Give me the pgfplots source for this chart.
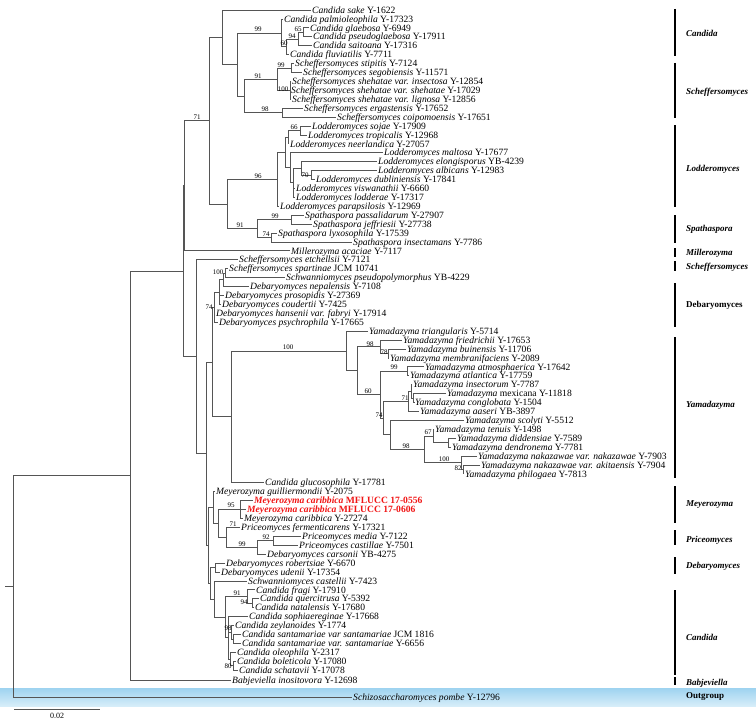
\documentclass[border=0pt]{standalone}
\usepackage{fontspec}
\setmainfont{Liberation Serif}
\usepackage{pgfplots}
\pgfplotsset{compat=1.18}
\definecolor{branch}{RGB}{85,85,85}
\definecolor{bandtop}{RGB}{158,211,240}
\definecolor{bandbot}{RGB}{214,237,249}
\definecolor{newstrain}{RGB}{240,20,20}

\tikzset{
  taxon/.style={anchor=base west, inner sep=0pt, yshift=-3.2bp, font=\fontsize{9.6bp}{10bp}\selectfont},
  boot/.style={anchor=center, inner sep=0pt, font=\fontsize{7bp}{8bp}\selectfont},
  clade/.style={anchor=west, inner sep=0pt, font=\fontsize{9bp}{10bp}\selectfont\bfseries\itshape},
}
\newcommand{\br}[1]{\addplot[branch, line width=0.7bp] coordinates {#1};}
\newcommand{\tx}[3]{\node[taxon] at (axis cs:#1,#2) {#3};}
\newcommand{\bs}[3]{\node[boot] at (axis cs:#1,#2) {#3};}
\newcommand{\cl}[2]{\addplot[black, line width=2bp] coordinates {(675,#1) (675,#2)};}

\begin{document}
\begin{tikzpicture}
\useasboundingbox (0,0) rectangle (756bp,722bp);
\begin{axis}[
    width=756bp, height=722bp, scale only axis,
    xmin=0, xmax=756, ymin=0, ymax=722,
    y dir=reverse,
    hide axis,
    clip=false
]
% outgroup band
\addplot[draw=none, top color=bandtop, bottom color=bandbot] coordinates {(0,688) (756,688) (756,706) (0,706)};

% --- Candida / Scheffersomyces block
\br{(311,10) (222,10) (222,64.36) (237,64.36)}
\br{(281,32.86) (237,32.86) (237,95.86) (244,95.86)}
\br{(283,18.92) (281,18.92) (281,46.8) (286,46.8)}
\br{(298,39.0) (286,39.0) (286,54.6) (289,54.6)}
\br{(303,32.3) (298,32.3) (298,45.68) (312,45.68)}
\br{(309,27.84) (303,27.84) (303,36.76) (312,36.76)}
\br{(277,79.13) (244,79.13) (244,112.58) (282,112.58)}
\br{(291,67.98) (277,67.98) (277,90.28) (290,90.28)}
\br{(294,63.52) (291,63.52) (291,72.44) (302,72.44)}
\br{(291,81.36) (290,81.36) (290,99.2) (291,99.2)}
\br{(303,108.12) (282,108.12) (282,117.04) (336,117.04)}
% --- Lodderomyces / Spathaspora
\br{(222,37.18) (209,37.18) (209,203.94) (227,203.94)}
\br{(277,179.34) (227,179.34) (227,228.54) (257,228.54)}
\br{(285,152.44) (277,152.44) (277,206.24) (279,206.24)}
\br{(288,137.11) (285,137.11) (285,167.76) (290,167.76)}
\br{(300,130.42) (288,130.42) (288,143.8) (289,143.8)}
\br{(311,125.96) (300,125.96) (300,134.88) (307,134.88)}
\br{(383,152.72) (290,152.72) (290,182.8) (293,182.8)}
\br{(301,168.33) (293,168.33) (293,197.32) (295,197.32)}
\br{(293,188.4) (295,188.4)}
\br{(377,161.64) (301,161.64) (301,175.02) (311,175.02)}
\br{(377,170.56) (311,170.56) (311,179.48) (315,179.48)}
\br{(291,219.62) (257,219.62) (257,237.46) (271,237.46)}
\br{(304,215.16) (291,215.16) (291,224.08) (312,224.08)}
\br{(277,233.0) (271,233.0) (271,241.92) (352,241.92)}
\br{(209,120.56) (184,120.56) (184,250.84) (290,250.84)}
\br{(184,185.7) (183,185.7) (183,356.73) (196,356.73)}
% --- Debaryomyces / Yamadazyma
\br{(238,259.76) (196,259.76) (196,453.7) (206,453.7)}
\br{(212,362.0) (206,362.0) (206,545.41) (208,545.41)}
\br{(214,307.15) (212,307.15) (212,416.84) (231,416.84)}
\br{(219,292.1) (214,292.1) (214,322.2) (218,322.2)}
\br{(214,313.28) (215,313.28)}
\br{(223,279.83) (219,279.83) (219,304.36) (221,304.36)}
\br{(219,295.44) (224,295.44)}
\br{(225,273.14) (223,273.14) (223,286.52) (249,286.52)}
\br{(228,268.68) (225,268.68) (225,277.6) (285,277.6)}
\br{(346,350.91) (231,350.91) (231,482.76) (264,482.76)}
\br{(368,331.12) (346,331.12) (346,370.7) (357,370.7)}
\br{(380,346.73) (357,346.73) (357,394.68) (380,394.68)}
\br{(402,340.04) (380,340.04) (380,353.42) (388,353.42)}
\br{(406,348.96) (388,348.96) (388,357.88) (389,357.88)}
\br{(407,371.26) (380,371.26) (380,418.1) (383,418.1)}
\br{(424,366.8) (407,366.8) (407,375.72) (409,375.72)}
\br{(408,401.37) (383,401.37) (383,434.82) (390,434.82)}
\br{(411,391.33) (408,391.33) (408,411.4) (419,411.4)}
\br{(412,384.64) (411,384.64) (411,398.02) (413.5,398.02)}
\br{(446,393.56) (413.5,393.56) (413.5,402.48) (414.5,402.48)}
\br{(464,420.32) (390,420.32) (390,449.31) (424,449.31)}
\br{(433,435.93) (424,435.93) (424,462.69) (461,462.69)}
\br{(434,429.24) (433,429.24) (433,442.62) (448,442.62)}
\br{(456,438.16) (448,438.16) (448,447.08) (451,447.08)}
\br{(477,456.0) (461,456.0) (461,469.38) (463,469.38)}
\br{(480,464.92) (463,464.92) (463,473.84) (464,473.84)}
% --- Meyerozyma / Priceomyces / Candida
\br{(213,507.57) (208,507.57) (208,583.25) (210,583.25)}
\br{(215,491.68) (213,491.68) (213,523.46) (218,523.46)}
\br{(240,509.52) (218,509.52) (218,537.4) (226,537.4)}
\br{(253,500.6) (240,500.6) (240,518.44) (243,518.44)}
\br{(240,509.52) (246,509.52)}
\br{(240,527.36) (226,527.36) (226,547.43) (257,547.43)}
\br{(273,540.74) (257,540.74) (257,554.12) (266,554.12)}
\br{(301,536.28) (273,536.28) (273,545.2) (298,545.2)}
\br{(215,567.5) (210,567.5) (210,599.0) (214,599.0)}
\br{(225,563.04) (215,563.04) (215,571.96) (220,571.96)}
\br{(247,580.88) (214,580.88) (214,617.12) (225,617.12)}
\br{(247,596.49) (225,596.49) (225,637.75) (228,637.75)}
\br{(255,589.8) (247,589.8) (247,603.18) (252,603.18)}
\br{(259,598.72) (252,598.72) (252,607.64) (254,607.64)}
\br{(248,616.56) (228,616.56) (228,658.93) (230,658.93)}
\br{(228,632.17) (231,632.17)}
\br{(234,625.48) (231,625.48) (231,638.86) (233,638.86)}
\br{(241,634.4) (233,634.4) (233,643.32) (241,643.32)}
\br{(236,652.24) (230,652.24) (230,665.62) (233,665.62)}
\br{(236,661.16) (233,661.16) (233,670.08) (238,670.08)}
% --- deep nodes and root
\br{(183,271.2) (130,271.2) (130,680) (231,680)}
\br{(130,475.1) (13,475.1) (13,697) (352,697)}
\br{(5,586) (13,586)}
% scale bar
\br{(14,709) (100,709)}
\node[boot, font=\fontsize{8bp}{9bp}\selectfont] at (axis cs:57,716) {0.02};

% --- taxa
\tx{312}{10}{\textit{Candida sake} Y-1622}
\tx{284}{18.92}{\textit{Candida palmioleophila} Y-17323}
\tx{310}{27.84}{\textit{Candida glaebosa} Y-6949}
\tx{313}{36.76}{\textit{Candida pseudoglaebosa} Y-17911}
\tx{313}{45.68}{\textit{Candida saitoana} Y-17316}
\tx{290}{54.6}{\textit{Candida fluviatilis} Y-7711}
\tx{295}{63.52}{\textit{Scheffersomyces stipitis} Y-7124}
\tx{303}{72.44}{\textit{Scheffersomyces segobiensis} Y-11571}
\tx{292}{81.36}{\textit{Scheffersomyces shehatae var. insectosa} Y-12854}
\tx{291}{90.28}{\textit{Scheffersomyces shehatae var. shehatae} Y-17029}
\tx{292}{99.2}{\textit{Scheffersomyces shehatae var. lignosa} Y-12856}
\tx{304}{108.12}{\textit{Scheffersomyces ergastensis} Y-17652}
\tx{337}{117.04}{\textit{Scheffersomyces coipomoensis} Y-17651}
\tx{312}{125.96}{\textit{Lodderomyces sojae} Y-17909}
\tx{308}{134.88}{\textit{Lodderomyces tropicalis} Y-12968}
\tx{290}{143.8}{\textit{Lodderomyces neerlandica} Y-27057}
\tx{384}{152.72}{\textit{Lodderomyces maltosa} Y-17677}
\tx{378}{161.64}{\textit{Lodderomyces elongisporus} YB-4239}
\tx{378}{170.56}{\textit{Lodderomyces albicans} Y-12983}
\tx{316}{179.48}{\textit{Lodderomyces dubliniensis} Y-17841}
\tx{296}{188.4}{\textit{Lodderomyces viswanathii} Y-6660}
\tx{296}{197.32}{\textit{Lodderomyces lodderae} Y-17317}
\tx{280}{206.24}{\textit{Lodderomyces parapsilosis} Y-12969}
\tx{305}{215.16}{\textit{Spathaspora passalidarum} Y-27907}
\tx{313}{224.08}{\textit{Spathaspora jeffriesii} Y-27738}
\tx{278}{233}{\textit{Spathaspora lyxosophila} Y-17539}
\tx{353}{241.92}{\textit{Spathaspora insectamans} Y-7786}
\tx{291}{250.84}{\textit{Millerozyma acaciae} Y-7117}
\tx{239}{259.76}{\textit{Scheffersomyces etchellsii} Y-7121}
\tx{229}{268.68}{\textit{Scheffersomyces spartinae} JCM 10741}
\tx{286}{277.6}{\textit{Schwanniomyces pseudopolymorphus} YB-4229}
\tx{250}{286.52}{\textit{Debaryomyces nepalensis} Y-7108}
\tx{225}{295.44}{\textit{Debaryomyces prosopidis} Y-27369}
\tx{222}{304.36}{\textit{Debaryomyces coudertii} Y-7425}
\tx{216}{313.28}{\textit{Debaryomyces hansenii var. fabryi} Y-17914}
\tx{219}{322.2}{\textit{Debaryomyces psychrophila} Y-17665}
\tx{369}{331.12}{\textit{Yamadazyma triangularis} Y-5714}
\tx{403}{340.04}{\textit{Yamadazyma friedrichii} Y-17653}
\tx{407}{348.96}{\textit{Yamadazyma buinensis} Y-11706}
\tx{390}{357.88}{\textit{Yamadazyma membranifaciens} Y-2089}
\tx{425}{366.8}{\textit{Yamadazyma atmosphaerica} Y-17642}
\tx{410}{375.72}{\textit{Yamadazyma atlantica} Y-17759}
\tx{413}{384.64}{\textit{Yamadazyma insectorum} Y-7787}
\tx{447}{393.56}{\textit{Yamadazyma} mexicana Y-11818}
\tx{415}{402.48}{\textit{Yamadazyma conglobata} Y-1504}
\tx{420}{411.4}{\textit{Yamadazyma aaseri} YB-3897}
\tx{465}{420.32}{\textit{Yamadazyma scolyti} Y-5512}
\tx{435}{429.24}{\textit{Yamadazyma tenuis} Y-1498}
\tx{457}{438.16}{\textit{Yamadazyma diddensiae} Y-7589}
\tx{452}{447.08}{\textit{Yamadazyma dendronema} Y-7781}
\tx{478}{456}{\textit{Yamadazyma nakazawae var. nakazawae} Y-7903}
\tx{481}{464.92}{\textit{Yamadazyma nakazawae var. akitaensis} Y-7904}
\tx{465}{473.84}{\textit{Yamadazyma philogaea} Y-7813}
\tx{265}{482.76}{\textit{Candida glucosophila} Y-17781}
\tx{216}{491.68}{\textit{Meyerozyma guilliermondii} Y-2075}
\tx{254}{500.6}{\color{newstrain}\bfseries\textit{Meyerozyma caribbica} MFLUCC 17-0556}
\tx{247}{509.52}{\color{newstrain}\bfseries\textit{Meyerozyma caribbica} MFLUCC 17-0606}
\tx{244}{518.44}{\textit{Meyerozyma caribbica} Y-27274}
\tx{241}{527.36}{\textit{Priceomyces fermenticarens} Y-17321}
\tx{302}{536.28}{\textit{Priceomyces media} Y-7122}
\tx{299}{545.2}{\textit{Priceomyces castillae} Y-7501}
\tx{267}{554.12}{\textit{Debaryomyces carsonii} YB-4275}
\tx{226}{563.04}{\textit{Debaryomyces robertsiae} Y-6670}
\tx{221}{571.96}{\textit{Debaryomyces udenii} Y-17354}
\tx{248}{580.88}{\textit{Schwanniomyces castellii} Y-7423}
\tx{256}{589.8}{\textit{Candida fragi} Y-17910}
\tx{260}{598.72}{\textit{Candida quercitrusa} Y-5392}
\tx{255}{607.64}{\textit{Candida natalensis} Y-17680}
\tx{249}{616.56}{\textit{Candida sophiaereginae} Y-17668}
\tx{235}{625.48}{\textit{Candida zeylanoides} Y-1774}
\tx{242}{634.4}{\textit{Candida santamariae var santamariae} JCM 1816}
\tx{242}{643.32}{\textit{Candida santamariae var. santamariae} Y-6656}
\tx{237}{652.24}{\textit{Candida oleophila} Y-2317}
\tx{237}{661.16}{\textit{Candida boleticola} Y-17080}
\tx{239}{670.08}{\textit{Candida schatavii} Y-17078}
\tx{232}{680}{\textit{Babjeviella inositovora} Y-12698}
\tx{353}{697}{\textit{Schizosaccharomyces pombe} Y-12796}

% --- bootstrap values
\bs{197}{117}{71}
\bs{258}{29}{99}
\bs{298}{29}{65}
\bs{292}{36}{94}
\bs{284}{43}{60}
\bs{281}{65}{99}
\bs{283}{89}{100}
\bs{258}{76}{91}
\bs{265}{109}{98}
\bs{294}{127}{66}
\bs{305}{175}{70}
\bs{258}{176}{96}
\bs{275}{216}{99}
\bs{266}{234}{74}
\bs{240}{225}{91}
\bs{218}{272}{100}
\bs{209}{307}{74}
\bs{288}{347}{100}
\bs{370}{344}{98}
\bs{384}{352}{78}
\bs{394}{367}{99}
\bs{368}{391}{60}
\bs{405}{398}{71}
\bs{379}{415}{74}
\bs{428}{432}{67}
\bs{406}{446}{98}
\bs{444}{459}{100}
\bs{458}{468}{82}
\bs{231}{505}{95}
\bs{233}{524}{71}
\bs{266}{537}{92}
\bs{242}{544}{99}
\bs{237}{593}{91}
\bs{244}{602}{94}
\bs{228}{628}{98}
\bs{228}{666}{80}

% --- clade bars and names
\cl{9}{56}
\cl{63}{118}
\cl{125}{207}
\cl{215}{243}
\cl{248}{257}
\cl{261}{271}
\cl{283}{327}
\cl{337}{478}
\cl{486}{523}
\cl{530}{545}
\cl{557}{574}
\cl{590}{675}
\cl{677}{685}
\node[clade] at (axis cs:686,33) {Candida};
\node[clade] at (axis cs:686,92) {Scheffersomyces};
\node[clade] at (axis cs:686,169) {Lodderomyces};
\node[clade] at (axis cs:686,229) {Spathaspora};
\node[clade] at (axis cs:686,253) {Millerozyma};
\node[clade] at (axis cs:686,267) {Scheffersomyces};
\node[clade, font=\fontsize{9bp}{10bp}\selectfont\bfseries] at (axis cs:686,305) {Debaryomyces};
\node[clade] at (axis cs:686,405) {Yamadazyma};
\node[clade] at (axis cs:686,505) {Meyerozyma};
\node[clade] at (axis cs:686,540) {Priceomyces};
\node[clade] at (axis cs:686,566) {Debaryomyces};
\node[clade] at (axis cs:686,637) {Candida};
\node[clade] at (axis cs:686,683) {Babjeviella};
\node[clade, font=\fontsize{9bp}{10bp}\selectfont\bfseries] at (axis cs:686,697) {Outgroup};
\end{axis}
\end{tikzpicture}
\end{document}
